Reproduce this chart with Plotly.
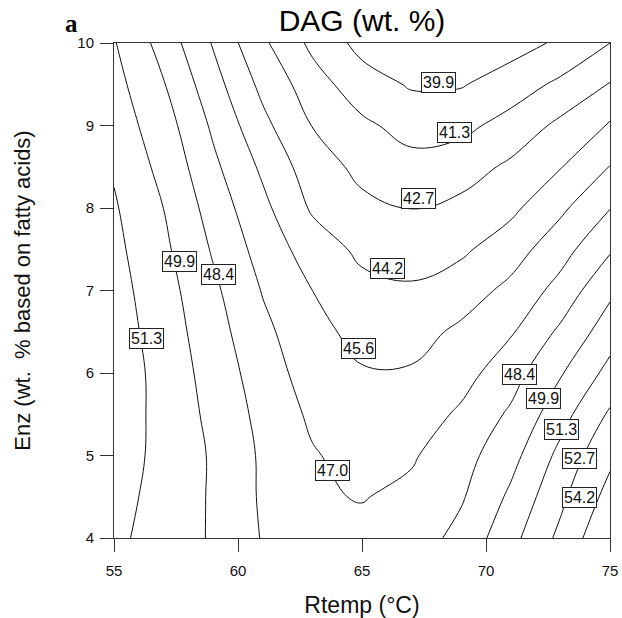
import plotly.graph_objects as go

# Response grid: DAG content (wt. %) over reaction temperature and enzyme load
rtemp = [55, 57, 59, 61, 63, 65, 67, 69, 71, 73, 75]
enz = [4.0, 4.5, 5.0, 5.5, 6.0, 6.5, 7.0, 7.5, 8.0, 8.5, 9.0, 9.5, 10.0]
dag = [
    [51.60, 50.70, 49.75, 48.31, 47.61, 47.34, 47.59, 48.88, 50.85, 53.04, 55.60],
    [51.80, 50.80, 49.74, 48.20, 47.14, 46.94, 47.30, 48.24, 50.17, 52.36, 54.72],
    [51.90, 50.94, 49.73, 48.17, 47.11, 46.52, 46.86, 47.80, 49.42, 51.67, 53.87],
    [51.95, 50.94, 49.52, 47.97, 46.76, 46.12, 46.26, 47.22, 48.62, 50.77, 52.89],
    [52.00, 50.89, 49.27, 47.68, 46.37, 45.71, 45.74, 46.48, 47.80, 49.77, 51.73],
    [51.90, 50.73, 48.98, 47.34, 46.03, 45.17, 45.08, 45.87, 46.86, 48.65, 50.68],
    [51.80, 50.51, 48.68, 46.92, 45.60, 44.59, 44.39, 44.93, 45.96, 47.48, 49.60],
    [51.65, 50.20, 48.25, 46.45, 44.93, 43.90, 43.56, 43.96, 44.96, 46.45, 48.23],
    [51.45, 49.89, 47.80, 45.95, 44.02, 43.05, 42.68, 43.05, 43.89, 45.32, 46.96],
    [51.15, 49.47, 47.30, 45.34, 43.45, 42.30, 41.76, 42.08, 42.95, 44.13, 45.64],
    [50.75, 49.04, 46.77, 44.58, 42.66, 41.57, 40.79, 40.94, 41.80, 43.01, 44.37],
    [50.40, 48.48, 46.14, 43.82, 41.90, 40.53, 39.75, 39.79, 40.61, 41.57, 42.77],
    [50.00, 47.83, 45.49, 42.95, 40.98, 39.45, 38.92, 38.83, 39.30, 40.13, 41.30],
]

# Contour levels drawn as iso-lines
levels = [39.9, 41.3, 42.7, 44.2, 45.6, 47.0, 48.4, 49.9, 51.3, 52.7, 54.2]

# Boxed level labels: value and where the box sits (Rtemp, Enz)
label_values = [39.9, 41.3, 42.7, 44.2, 45.6, 47.0, 49.9, 48.4, 51.3,
                48.4, 49.9, 51.3, 52.7, 54.2]
label_at = [(68.07, 9.52), (68.74, 8.92), (67.26, 8.11), (66.03, 7.27),
            (64.84, 6.30), (63.81, 4.82), (57.63, 7.35), (59.20, 7.19),
            (56.33, 6.42), (71.34, 5.98), (72.33, 5.69), (73.06, 5.31),
            (73.77, 4.96), (73.79, 4.49)]

SANS = "Arial, Liberation Sans, sans-serif"

fig = go.Figure()
for lv in levels:
    fig.add_trace(go.Contour(
        x=rtemp, y=enz, z=dag,
        autocontour=False,
        contours=dict(start=lv, end=lv, size=1, coloring="none"),
        line=dict(color="#111111", width=1, smoothing=1.2),
        showscale=False, hoverinfo="skip",
    ))

annotations = []
for val, (tx, ey) in zip(label_values, label_at):
    annotations.append(dict(
        x=tx, y=ey, xref="x", yref="y", text=f"{val:.1f}", showarrow=False,
        font=dict(family=SANS, size=16, color="#111111"),
        bgcolor="white", bordercolor="#222222", borderwidth=1, borderpad=1,
    ))
annotations.append(dict(
    x=-0.085, y=1.040, xref="paper", yref="paper", text="<b>a</b>",
    showarrow=False, xanchor="center", yanchor="middle",
    font=dict(family="Liberation Serif, Times New Roman, serif", size=25, color="black"),
))

axis_common = dict(
    showline=True, linecolor="#333333", linewidth=1, mirror=True,
    ticks="outside", ticklen=13, tickcolor="#333333", tickwidth=1,
    showgrid=False, zeroline=False, automargin=False,
    tickfont=dict(family=SANS, size=15, color="#111111"),
)

fig.update_layout(
    width=622, height=618,
    margin=dict(l=114, r=12, t=43, b=80),
    paper_bgcolor="white", plot_bgcolor="white",
    showlegend=False,
    title=dict(text="DAG (wt. %)", x=0.5, xref="paper", y=1 - 20 / 618,
               yref="container", xanchor="center", yanchor="middle",
               font=dict(family=SANS, size=30, color="black")),
    xaxis=dict(range=[55, 75], tickvals=[55, 60, 65, 70, 75],
               title=dict(text="Rtemp (°C)", standoff=18,
                          font=dict(family=SANS, size=23, color="#111111")),
               ticklabelstandoff=6, **axis_common),
    yaxis=dict(range=[4, 10], tickvals=[4, 5, 6, 7, 8, 9, 10],
               title=dict(text="Enz (wt.  % based on fatty acids)", standoff=40,
                          font=dict(family=SANS, size=22, color="#111111")),
               ticklabelstandoff=3, **axis_common),
    annotations=annotations,
)

fig.write_html("out.html")
